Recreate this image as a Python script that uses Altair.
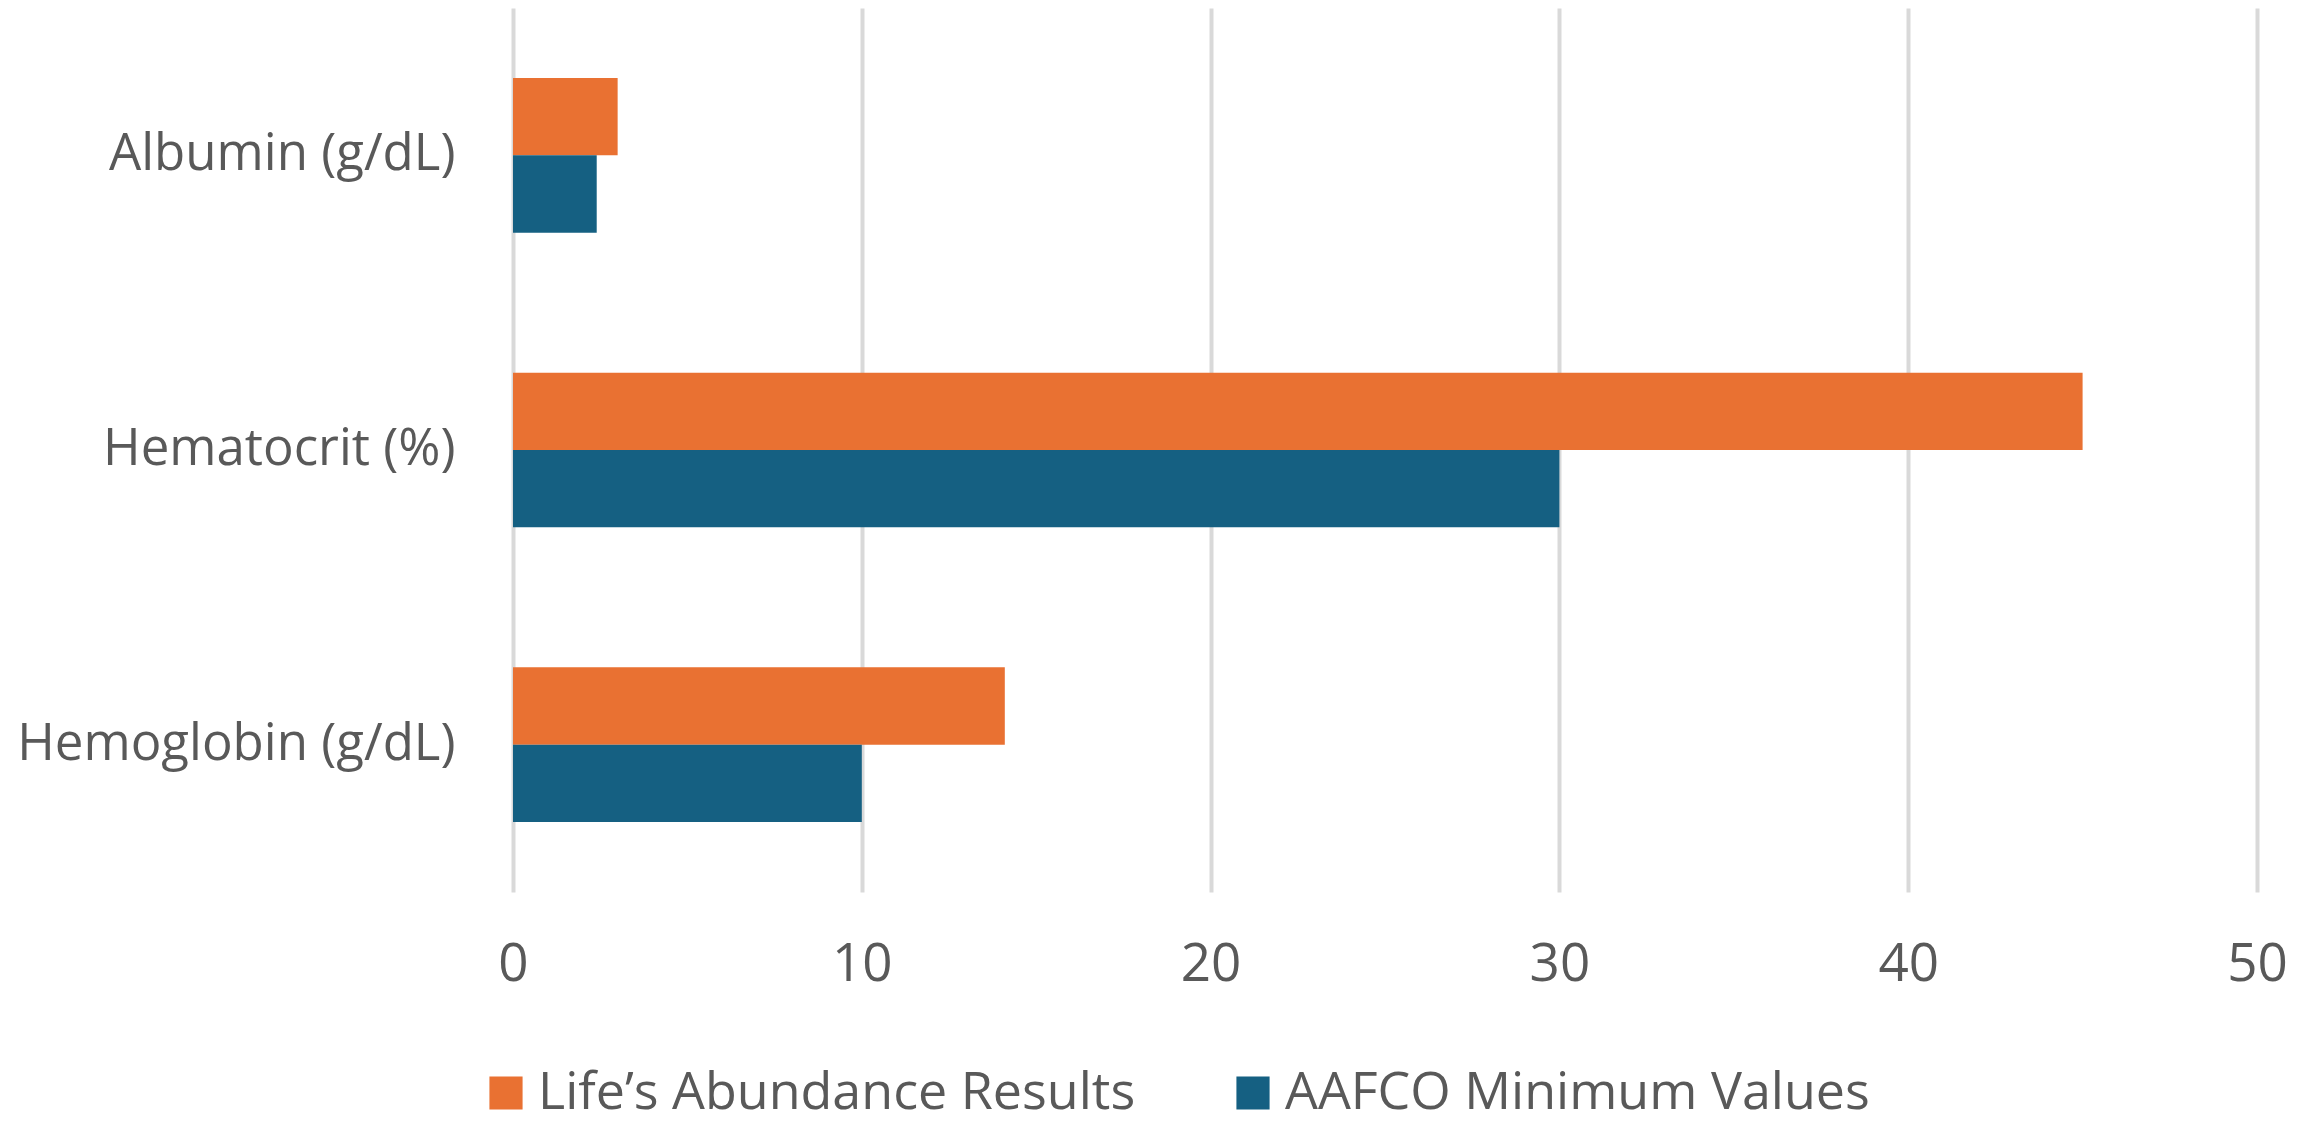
import altair as alt
import pandas as pd

categories = ["Albumin (g/dL)", "Hematocrit (%)", "Hemoglobin (g/dL)"]
series = ["Life’s Abundance Results", "AAFCO Minimum Values"]
lifes_abundance = [3.0, 45.0, 14.1]
aafco_minimum = [2.4, 30.0, 10.0]
x_ticks = [0, 10, 20, 30, 40, 50]
colors = ["#E97132", "#156082"]

rows = []
for c, a, b in zip(categories, lifes_abundance, aafco_minimum):
    rows.append({"category": c, "series": series[0], "value": a})
    rows.append({"category": c, "series": series[1], "value": b})
df = pd.DataFrame(rows)

FONT = "Open Sans"
TXT = "#595959"

chart = alt.Chart(df).mark_bar().encode(
    y=alt.Y("category:N", sort=categories,
            scale=alt.Scale(paddingInner=0.475, paddingOuter=0.2375),
            axis=alt.Axis(title=None, domain=False, ticks=False, grid=False,
                          labelFontSize=51, labelFont=FONT, labelColor=TXT,
                          labelPadding=58, labelLimit=1000)),
    yOffset=alt.YOffset("series:N", sort=series),
    x=alt.X("value:Q", scale=alt.Scale(domain=[0, 50], nice=False),
            axis=alt.Axis(title=None, values=x_ticks, domain=False, ticks=False,
                          grid=True, gridColor="#D9D9D9", gridWidth=4,
                          labelFontSize=53, labelFont=FONT, labelColor=TXT,
                          labelPadding=46, labelFlush=False)),
    color=alt.Color("series:N", sort=series,
                    scale=alt.Scale(domain=series, range=colors),
                    legend=alt.Legend(title=None, orient="none", direction="horizontal",
                                      legendX=-33, legendY=1059,
                                      symbolType="square", symbolSize=1100,
                                      symbolStrokeWidth=0,
                                      labelFontSize=52, labelFont=FONT, labelColor=TXT,
                                      labelOffset=6, columnPadding=91,
                                      labelLimit=1200)),
).properties(
    width=1744, height=884,
    autosize=alt.AutoSizeParams(type="none"),
    padding={"left": 505, "top": 0, "right": 53, "bottom": 221},
).configure_view(stroke=None)

chart.save("out.html", embed_options={"renderer": "svg", "actions": False})
